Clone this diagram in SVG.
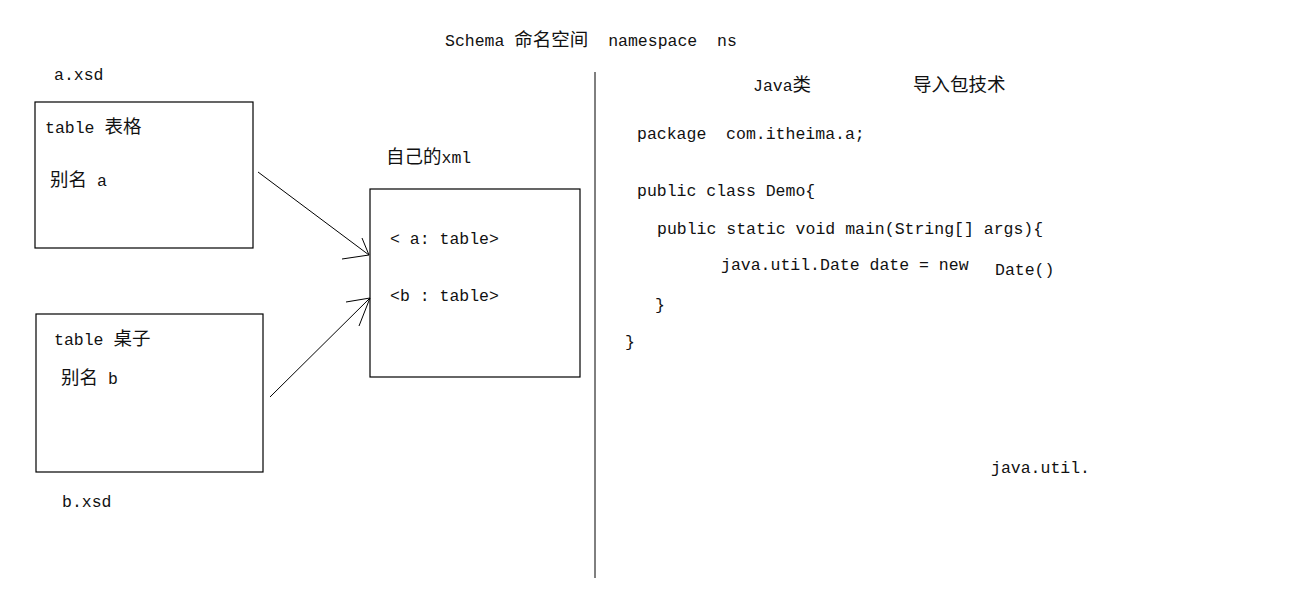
<svg xmlns="http://www.w3.org/2000/svg" width="1296" height="604" viewBox="0 0 1296 604">
<style>
text{font-family:"Liberation Mono","Noto Sans CJK SC",monospace;font-size:16.5px;fill:#111;}
.cjk{font-size:18.5px;}
.box{fill:none;stroke:#000;stroke-width:1.2;}
.conn{fill:none;stroke:#000;stroke-width:1;}
</style>
<rect width="1296" height="604" fill="#fff"/>
<text x="445" y="46" xml:space="preserve">Schema <tspan class="cjk">命名空间</tspan>  namespace  ns</text>
<g id="a-xsd">
<text x="54" y="80">a.xsd</text>
<rect class="box" x="35" y="102" width="218" height="146"/>
<text x="45" y="133">table <tspan class="cjk">表格</tspan></text>
<text x="50" y="186"><tspan class="cjk">别名</tspan> a</text>
</g>
<g id="b-xsd">
<rect class="box" x="36" y="314" width="227" height="158"/>
<text x="54" y="345">table <tspan class="cjk">桌子</tspan></text>
<text x="61" y="384"><tspan class="cjk">别名</tspan> b</text>
<text x="62" y="507">b.xsd</text>
</g>
<g id="own-xml">
<text x="386" y="163"><tspan class="cjk">自己的</tspan>xml</text>
<rect class="box" x="370" y="189" width="210" height="188"/>
<text x="390" y="244">&lt; a: table&gt;</text>
<text x="390" y="301">&lt;b : table&gt;</text>
</g>
<g id="connectors">
<path class="conn" d="M258,172 L369,255 M362,238 L369,255 L342,259"/>
<path class="conn" d="M270,397 L370,298 M346,302 L370,298 L359,326"/>
<line class="conn" x1="595" y1="72" x2="595" y2="578"/>
</g>
<g id="java-code">
<text x="753" y="91">Java<tspan class="cjk">类</tspan></text>
<text x="913" y="91" class="cjk">导入包技术</text>
<text x="637" y="139" xml:space="preserve">package  com.itheima.a;</text>
<text x="637" y="196">public class Demo{</text>
<text x="657" y="234">public static void main(String[] args){</text>
<text x="721" y="270">java.util.Date date = new</text>
<text x="995" y="275">Date()</text>
<text x="655" y="310">}</text>
<text x="625" y="347">}</text>
<text x="991" y="473">java.util.</text>
</g>
</svg>
